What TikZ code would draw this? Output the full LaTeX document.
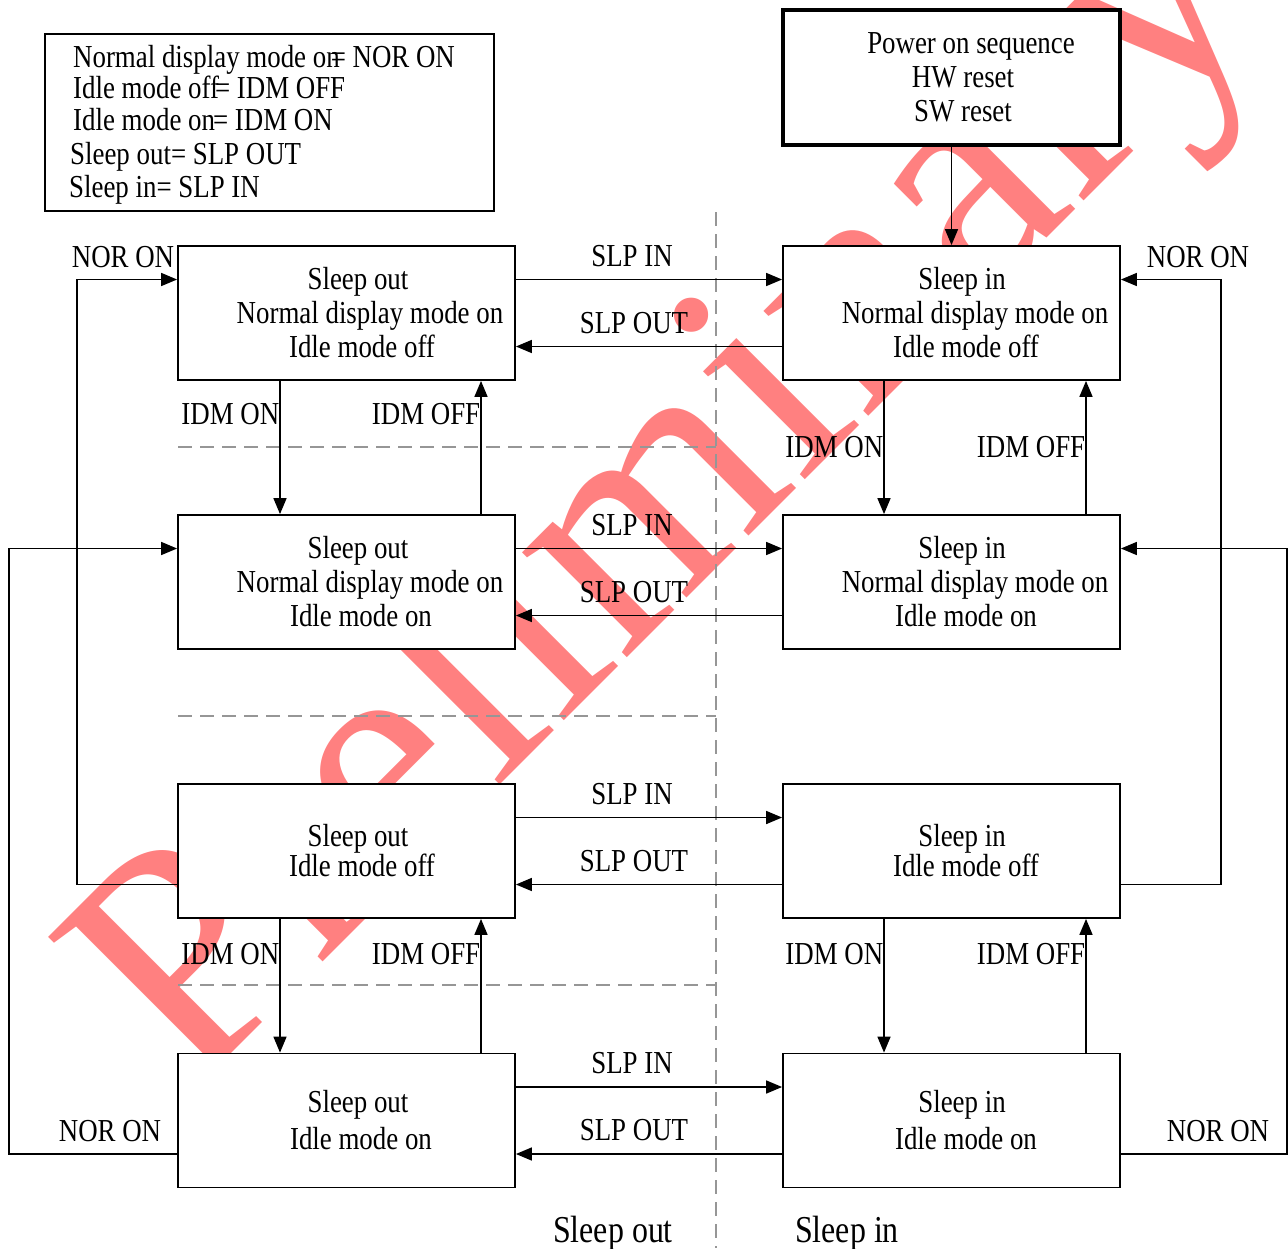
\documentclass[tikz,border=0pt]{standalone}
\usepackage{fontspec}
\setmainfont{Liberation Serif}[FakeStretch=0.84]
\newfontfamily\wmfont{Liberation Serif}
\usetikzlibrary{arrows.meta}
\definecolor{wmred}{RGB}{255,128,128}
\definecolor{dgray}{RGB}{150,150,150}
\begin{document}
\begin{tikzpicture}[x=1pt,y=-1pt,
  state/.style={draw=black, line width=1.8pt, fill=white, minimum width=337pt,
    minimum height=134pt, inner sep=0pt, text width=337pt, align=flush center,
    font=\fontsize{32}{34}\selectfont},
  lbl/.style={inner sep=0pt, font=\fontsize{32}{34}\selectfont},
  arr/.style={line width=1.6pt, -{Triangle[length=16pt,width=13pt]}},
  sep/.style={draw=dgray, line width=2.5pt, dash pattern=on 14pt off 8pt},
  wm/.style={text=wmred, inner sep=0pt, font=\wmfont\fontsize{323}{323}\selectfont}
]
\useasboundingbox (0,0) rectangle (1288,1248);

% watermark
\node[wm, rotate=45, anchor=base west] (wmark) at (191,1094) {Preliminary};

% separators
\draw[sep] (716,212) -- (716,1248);
\draw[sep] (178,447) -- (716,447);
\draw[sep] (178,716) -- (716,716);
\draw[sep] (178,985) -- (716,985);

% legend
\node[draw=black, line width=1.8pt, minimum width=449pt, minimum height=177pt, inner sep=0pt] (legend) at (269.5,122.5) {};
\node[lbl, anchor=base west] (g1) at (73,67) {Normal display mode on\kern-9pt= NOR ON};
\node[lbl, anchor=base west] (g2) at (73,98) {Idle mode off\kern-4pt= IDM OFF};
\node[lbl, anchor=base west] (g3) at (73,130) {Idle mode on\kern-2pt= IDM ON};
\node[lbl, anchor=base west] (g4) at (70,164) {Sleep out= SLP OUT};
\node[lbl, anchor=base west] (g5) at (69,197) {Sleep in= SLP IN};

% power box
\node[state, line width=4pt, minimum height=135pt] (P) at (951.5,77.5)
  {\hspace*{39pt}Power on sequence\\\hspace*{23pt}HW reset\\\hspace*{23pt}SW reset};

% states
\node[state] (L1) at (346.5,313)
  {\hspace*{23pt}Sleep out\\\hspace*{47pt}Normal display mode on\\\hspace*{31pt}Idle mode off};
\node[state] (L2) at (346.5,582)
  {\hspace*{23pt}Sleep out\\\hspace*{47pt}Normal display mode on\\\hspace*{29pt}Idle mode on};
\node[state] (L3) at (346.5,851)
  {\hspace*{23pt}Sleep out\\[-4pt]\hspace*{31pt}Idle mode off};
\node[state] (L4) at (346.5,1120.5)
  {\hspace*{23pt}Sleep out\\[3pt]\hspace*{29pt}Idle mode on};
\node[state] (R1) at (951.5,313)
  {\hspace*{21pt}Sleep in\\\hspace*{47pt}Normal display mode on\\\hspace*{29pt}Idle mode off};
\node[state] (R2) at (951.5,582)
  {\hspace*{21pt}Sleep in\\\hspace*{47pt}Normal display mode on\\\hspace*{29pt}Idle mode on};
\node[state] (R3) at (951.5,851)
  {\hspace*{21pt}Sleep in\\[-4pt]\hspace*{29pt}Idle mode off};
\node[state] (R4) at (951.5,1120.5)
  {\hspace*{21pt}Sleep in\\[3pt]\hspace*{29pt}Idle mode on};

% power on arrow
\draw[arr] (P.south) -- (R1.north);

% sleep in / out arrows
\foreach \a/\b in {L1/R1, L2/R2, L3/R3, L4/R4}{
  \draw[arr] ([yshift=33.5pt]\a.east) -- node[lbl, above=12pt, xshift=-17pt] {SLP IN} ([yshift=33.5pt]\b.west);
  \draw[arr] ([yshift=-33.5pt]\b.west) -- node[lbl, above=12pt, xshift=-15pt] {SLP OUT} ([yshift=-33.5pt]\a.east);
}

% idle mode arrows
\draw[arr] ([xshift=-66.5pt]L1.south) -- node[lbl, anchor=east, pos=.25] {IDM ON} ([xshift=-66.5pt]L2.north);
\draw[arr] ([xshift=134.5pt]L2.north) -- node[lbl, anchor=east, pos=.75] {IDM OFF} ([xshift=134.5pt]L1.south);
\draw[arr] ([xshift=-66.5pt]L3.south) -- node[lbl, anchor=east, pos=.26] {IDM ON} ([xshift=-66.5pt]L4.north);
\draw[arr] ([xshift=134.5pt]L4.north) -- node[lbl, anchor=east, pos=.74] {IDM OFF} ([xshift=134.5pt]L3.south);
\draw[arr] ([xshift=-67.5pt]R1.south) -- node[lbl, anchor=east, pos=.5] {IDM ON} ([xshift=-67.5pt]R2.north);
\draw[arr] ([xshift=134.5pt]R2.north) -- node[lbl, anchor=east, pos=.5] {IDM OFF} ([xshift=134.5pt]R1.south);
\draw[arr] ([xshift=-67.5pt]R3.south) -- node[lbl, anchor=east, pos=.26] {IDM ON} ([xshift=-67.5pt]R4.north);
\draw[arr] ([xshift=134.5pt]R4.north) -- node[lbl, anchor=east, pos=.74] {IDM OFF} ([xshift=134.5pt]R3.south);

% normal display mode loops
\draw[arr] ([yshift=-33.5pt]L3.west) -- ++(-100,0) |- ([yshift=33.5pt]L1.west);
\draw[arr] ([yshift=-33.5pt]L4.west) -- ++(-168,0) |- ([yshift=33.5pt]L2.west);
\draw[arr] ([yshift=-33.5pt]R3.east) -- ++(100,0) |- ([yshift=33.5pt]R1.east);
\draw[arr] ([yshift=-33.5pt]R4.east) -- ++(166,0) |- ([yshift=33.5pt]R2.east);
\node[lbl] (n1) at (123,257) {NOR ON};
\node[lbl] (n2) at (110,1131) {NOR ON};
\node[lbl] (n3) at (1198,257) {NOR ON};
\node[lbl] (n4) at (1218,1131) {NOR ON};

% column captions
\node[anchor=base, inner sep=0pt, font=\fontsize{38}{40}\selectfont] (cso) at (613,1242) {Sleep out};
\node[anchor=base, inner sep=0pt, font=\fontsize{38}{40}\selectfont] (csi) at (847,1242) {Sleep in};
\end{tikzpicture}
\end{document}
